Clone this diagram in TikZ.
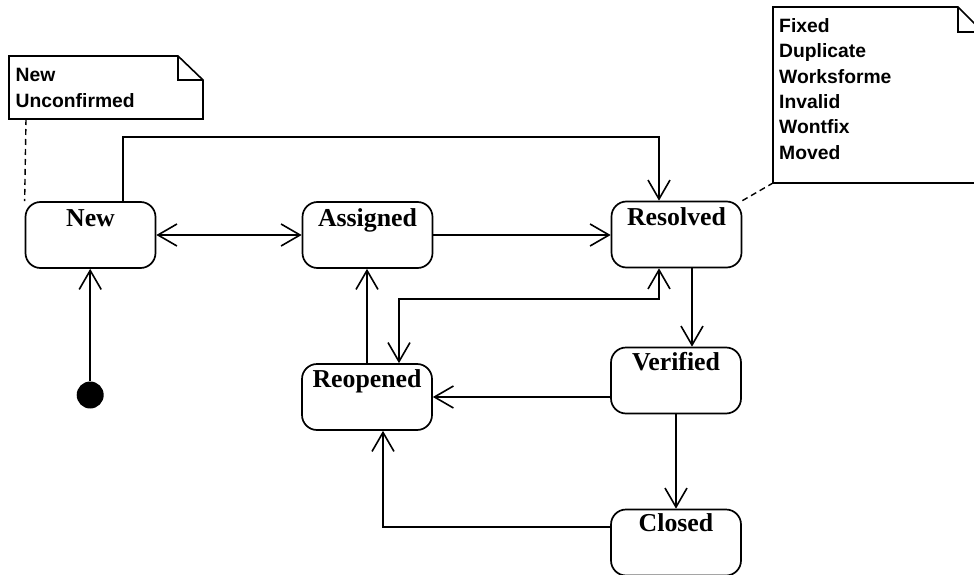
\documentclass[tikz,border=0pt]{standalone}
\usepackage{fontspec}
\setmainfont{Liberation Serif}
\newfontfamily\notefont{Liberation Sans}
\usetikzlibrary{arrows.meta}
\tikzset{
  state/.style={draw, line width=1.7pt, rounded corners=15pt, minimum width=130pt, minimum height=66pt, inner sep=0pt},
  stlabel/.style={anchor=base, inner sep=0pt, font=\fontsize{25.8}{30}\selectfont\bfseries},
  notetext/.style={anchor=north west, inner sep=0pt, align=left, font=\notefont\fontsize{19.3}{25.3}\selectfont\bfseries},
  notebox/.style={draw, line width=1.6pt, line join=miter},
  conn/.style={line width=1.6pt},
  noteconn/.style={line width=1.4pt, dash pattern=on 6pt off 4pt},
  >={Straight Barb[length=19pt,width=22pt]}
}
\begin{document}
\begin{tikzpicture}[x=1pt,y=-1pt]
\useasboundingbox (0,0) rectangle (974,575);
\clip (0,0) rectangle (974,575);
\fill[white] (0,0) rectangle (974,575);
% states
\node[state] (new) at (90.5,235) {};
\node[state] (assigned) at (367.5,235) {};
\node[state] (resolved) at (676.5,234.5) {};
\node[state] (reopened) at (367,397) {};
\node[state] (verified) at (676,380.5) {};
\node[state] (closed) at (676,542.5) {};
\node[stlabel] (newT) at ([yshift=-25.5pt]new.north) {New};
\node[stlabel] (assignedT) at ([yshift=-25pt]assigned.north) {Assigned};
\node[stlabel] (resolvedT) at ([yshift=-25pt]resolved.north) {Resolved};
\node[stlabel] (reopenedT) at ([yshift=-24pt]reopened.north) {Reopened};
\node[stlabel] (verifiedT) at ([yshift=-24pt]verified.north) {Verified};
\node[stlabel] (closedT) at ([yshift=-23pt]closed.north) {Closed};
% initial
\node[circle, fill=black, minimum size=27pt, inner sep=0pt] (init) at (90.2,395) {};
% notes
\draw[notebox] (9,56) -- (178,56) -- (203,80) -- (203,119) -- (9,119) -- cycle;
\draw[notebox] (178,56) -- (178,80) -- (203,80);
\node[notetext] (note1) at (15.5,68.5) {New\\Unconfirmed};
\coordinate (n1a) at (26,119);
\draw[notebox] (773,7) -- (958,7) -- (983,32) -- (983,183) -- (773,183) -- cycle;
\draw[notebox] (958,7) -- (958,32) -- (983,32);
\node[notetext] (note2) at (779,18.5) {Fixed\\Duplicate\\Worksforme\\Invalid\\Wontfix\\Moved};
\coordinate (n2a) at (773,183);
\draw[noteconn] (n1a) -- (new.north west);
\draw[noteconn] (resolved.north east) -- (n2a);
% connectors
\draw[conn,<->] (new.east) -- (assigned.west);
\draw[conn,->] ([xshift=32.5pt]new.north) |- (659,137) -- ([xshift=-17.5pt]resolved.north);
\draw[conn,->] (assigned.east) -- (resolved.west |- assigned.east);
\draw[conn,->] (init.north) -- (init.north |- new.south);
\draw[conn,->] (reopened.north) -- (reopened.north |- assigned.south);
\draw[conn,<->] ([xshift=-17.5pt]resolved.south) |- (399,299) -- ([xshift=32pt]reopened.north);
\coordinate (rv) at ([xshift=15.5pt]resolved.south);
\draw[conn,->] (rv) -- (rv |- verified.north);
\draw[conn,->] (verified.west |- reopened.east) -- (reopened.east);
\draw[conn,->] (verified.south) -- (closed.north);
\draw[conn,->] (closed.west |- 0,527) -| ([xshift=16pt]reopened.south);
\end{tikzpicture}
\end{document}
